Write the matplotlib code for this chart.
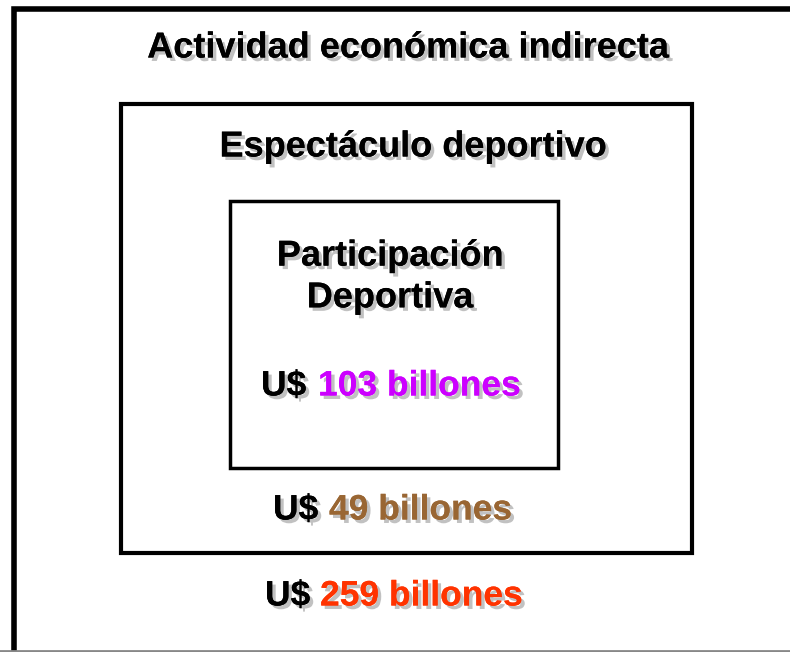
import matplotlib.pyplot as plt
import matplotlib.patheffects as pe
from matplotlib.patches import Rectangle

# niveles de actividad (de afuera hacia adentro)
niveles = ["Actividad económica indirecta", "Espectáculo deportivo", "Participación\nDeportiva"]
valores = [259, 49, 103]
colores = ["#FF3300", "#996633", "#CC00FF"]

W, H = 790, 652
fig = plt.figure(figsize=(W / 100, H / 100), dpi=100)
ax = fig.add_axes([0, 0, 1, 1])
ax.set_xlim(0, W)
ax.set_ylim(H, 0)
ax.axis('off')

sombra = [pe.withSimplePatchShadow(offset=(2.5, -2.5), shadow_rgbFace='#999999', alpha=0.6), pe.Normal()]
fuente = dict(family=['Liberation Sans', 'DejaVu Sans'], fontweight='bold', path_effects=sombra)

# marcos (el exterior queda abierto a la derecha)
ax.plot([14, 14, W], [651, 9, 9], color='black', lw=4, solid_joinstyle='miter')
ax.plot([0, W], [651, 651], color='#888888', lw=2)
ax.add_patch(Rectangle((121, 104), 571, 449, fill=False, lw=3, ec='black'))
ax.add_patch(Rectangle((230, 201), 328, 267, fill=False, lw=2.5, ec='black'))

# títulos
ax.text(408, 48, niveles[0], ha='center', va='center', fontsize=26, **fuente)
ax.text(413, 147, niveles[1], ha='center', va='center', fontsize=26, **fuente)
ax.text(390, 277, niveles[2], ha='center', va='center', linespacing=1.25, fontsize=26, **fuente)

# montos
pos = [(265, 320, 596), (273, 329, 510), (261, 318, 386)]
for (xu, xv, y), v, c in zip(pos, valores, colores):
    ax.text(xu, y, "U$", ha='left', va='center', color='black', fontsize=25.5, **fuente)
    ax.text(xv, y, f"{v} billones", ha='left', va='center', color=c, fontsize=25.5, **fuente)

fig.savefig("out.png", dpi=100)
